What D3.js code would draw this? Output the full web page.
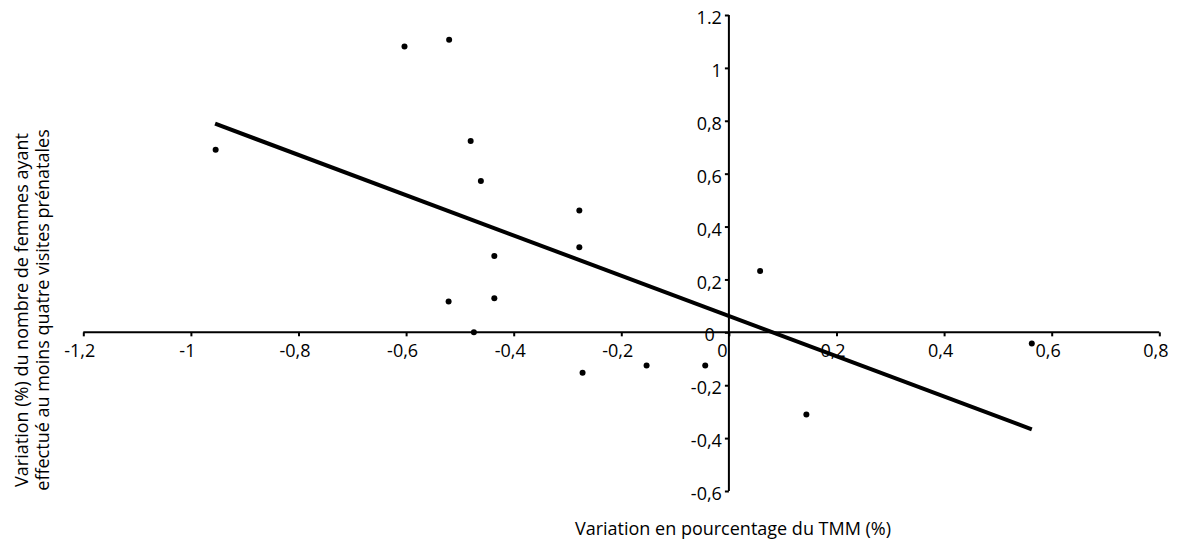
<!DOCTYPE html>
<html><head><meta charset="utf-8">
<script src="https://cdn.jsdelivr.net/npm/d3@7"></script>
<style>
html,body{margin:0;padding:0;background:#fff;}
text{font-family:"Open Sans",sans-serif;fill:#000;}
</style></head>
<body>
<svg id="chart" width="1180" height="542"></svg>
<script>
// Data
const pointX = [-0.954,-0.603,-0.520,-0.480,-0.461,-0.278,-0.278,-0.436,-0.436,-0.521,-0.474,-0.272,-0.153,-0.044,0.058,0.144,0.563];
const pointY = [0.690,1.081,1.106,0.724,0.572,0.461,0.322,0.289,0.129,0.117,0.000,-0.153,-0.125,-0.125,0.232,-0.311,-0.042];
const trendX = [-0.955,0.563];
const trendY = [0.789,-0.367];
const xTicks = [-1.2,-1,-0.8,-0.6,-0.4,-0.2,0,0.2,0.4,0.6,0.8];
const xTickLabels = ["-1,2","-1","-0,8","-0,6","-0,4","-0,2","0","0,2","0,4","0,6","0,8"];
const yTicks = [1.2,1,0.8,0.6,0.4,0.2,0,-0.2,-0.4,-0.6];
const yTickLabels = ["1.2","1","0,8","0,6","0,4","0,2","0","-0,2","-0,4","-0,6"];
const xTitle = "Variation en pourcentage du TMM (%)";
const yTitleLines = ["Variation (%) du nombre de femmes ayant","effectué au moins quatre visites prénatales"];

const svg = d3.select("#chart");
const x = d3.scaleLinear().domain([-1.2,0.8]).range([83.3,1159.3]);
const y = d3.scaleLinear().domain([-0.6,1.2]).range([491,15]);
const FS = 18;

// X axis through y=0
const xAxis = d3.axisBottom(x).tickValues(xTicks).tickSize(4)
  .tickFormat((d,i)=>xTickLabels[i]);
const gx = svg.append("g").attr("transform",`translate(0,${y(0)})`).call(xAxis);
gx.attr("font-size",FS).attr("font-family","Open Sans");
gx.select(".domain").attr("d",`M${x(-1.2)},0H${x(0.8)}`).attr("stroke","#000").attr("stroke-width",2);
gx.selectAll(".tick line").attr("stroke","#000").attr("stroke-width",2);
gx.selectAll(".tick text").attr("y",25).attr("dy",0).attr("dx",(d)=> d===0 ? -7 : -4);

// Y axis through x=0
const yAxis = d3.axisLeft(y).tickValues(yTicks).tickSize(4)
  .tickFormat((d,i)=>yTickLabels[i]);
const gy = svg.append("g").attr("transform",`translate(${x(0)},0)`).call(yAxis);
gy.attr("font-size",FS).attr("font-family","Open Sans");
gy.select(".domain").attr("d",`M0,${y(1.2)}V${y(-0.6)}`).attr("stroke","#000").attr("stroke-width",2);
gy.selectAll(".tick line").attr("stroke","#000").attr("stroke-width",2);
gy.selectAll(".tick text").attr("x",-7).attr("dy","0.48em").attr("dx",(d)=> d===0 ? -7 : 0);

// Trend line
svg.append("line")
  .attr("x1",x(trendX[0])).attr("y1",y(trendY[0]))
  .attr("x2",x(trendX[1])).attr("y2",y(trendY[1]))
  .attr("stroke","#000").attr("stroke-width",4);

// Points
svg.append("g").selectAll("circle").data(pointX.map((v,i)=>[v,pointY[i]])).join("circle")
  .attr("cx",d=>x(d[0])).attr("cy",d=>y(d[1])).attr("r",3).attr("fill","#000");

// Titles
svg.append("text").attr("x",733).attr("y",535).attr("text-anchor","middle")
  .attr("font-size",FS).text(xTitle);
const yt = svg.append("text").attr("transform","translate(0,310) rotate(-90)")
  .attr("text-anchor","middle").attr("font-size",FS);
yt.append("tspan").attr("x",0).attr("y",28).text(yTitleLines[0]);
yt.append("tspan").attr("x",0).attr("y",49).text(yTitleLines[1]);
</script>
</body></html>
